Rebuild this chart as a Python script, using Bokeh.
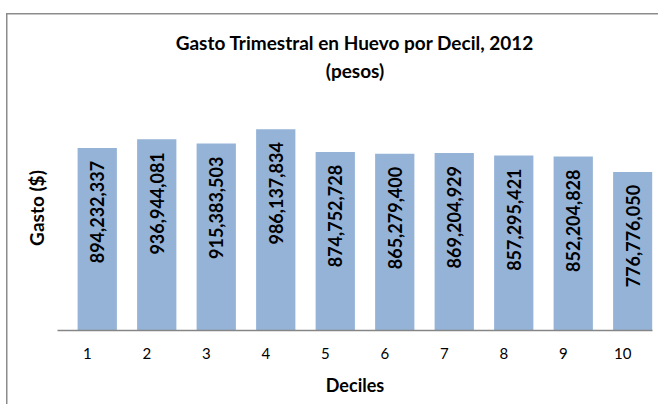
import math
from bokeh.plotting import figure
from bokeh.models import ColumnDataSource, Title, FixedTicker, Range1d, FactorRange
from bokeh.transform import dodge
from bokeh.core.properties import value
from bokeh.embed import file_html
from bokeh.resources import INLINE

deciles = ["1", "2", "3", "4", "5", "6", "7", "8", "9", "10"]
gasto = [894232337, 936944081, 915383503, 986137834, 874752728,
         865279400, 869204929, 857295421, 852204828, 776776050]
labels = [f"{v:,}" for v in gasto]

title_main = "Gasto Trimestral en Huevo por Decil, 2012"
title_sub = "(pesos)"
x_title = "Deciles"
y_title = "Gasto ($)"

src = ColumnDataSource(dict(x=deciles, y=gasto, lab=labels))

p = figure(width=658, height=404, output_backend="svg", toolbar_location=None,
           x_range=FactorRange(*deciles, range_padding=0),
           y_range=Range1d(0, 1.2e9),
           min_border_left=57, min_border_right=6, min_border_top=85,
           min_border_bottom=74)
p.title = None
p.outline_line_color = None
p.background_fill_color = "white"
p.border_fill_color = None
# chart-area border: top and left edges (drawn behind the transparent border area)
p.styles = {
    "background": ("linear-gradient(#8c8c8c, #8c8c8c) 6px 13px / 1.5px 100% no-repeat, "
                   "linear-gradient(#8c8c8c, #8c8c8c) 6px 13px / 100% 1.5px no-repeat, "
                   "white"),
}

xd = dodge("x", 0.168, range=p.x_range)
p.vbar(x=xd, top="y", width=0.66, source=src, fill_color="#95B3D7",
       line_color=None)
p.text(x=xd, y="y", text="lab", source=src, angle=math.pi / 2,
       text_align="right", text_baseline="middle", y_offset=13,
       text_font=value("Lato"), text_font_style="bold",
       text_font_size="18px", text_color="black")

sub = Title(text=title_sub, align="center", text_font="Lato", text_color="black",
            text_font_size="19px", text_font_style="bold", standoff=7)
main = Title(text=title_main, align="center", text_font="Lato", text_color="black",
             text_font_size="19px", text_font_style="bold", standoff=0)
p.add_layout(sub, "above")
p.add_layout(main, "above")

p.grid.visible = False

xa = p.xaxis[0]
xa.axis_line_color = "#868686"
xa.axis_line_width = 1.5
xa.major_tick_line_color = None
xa.minor_tick_line_color = None
xa.major_tick_out = 0
xa.major_label_standoff = 17
xa.major_label_text_font = "Lato"
xa.major_label_text_font_size = "15px"
xa.major_label_text_color = "black"
xa.axis_label = x_title
xa.axis_label_text_font = "Lato"
xa.axis_label_text_color = "black"
xa.axis_label_text_font_size = "18px"
xa.axis_label_text_font_style = "bold"
xa.axis_label_standoff = 12

ya = p.yaxis[0]
ya.ticker = FixedTicker(ticks=[])
ya.axis_line_color = None
ya.major_tick_line_color = None
ya.minor_tick_line_color = None
ya.axis_label = y_title
ya.axis_label_text_font = "Lato"
ya.axis_label_text_color = "black"
ya.axis_label_text_font_size = "19px"
ya.axis_label_text_font_style = "bold"
ya.axis_label_standoff = 10

open("out.html", "w").write(file_html(p, INLINE))
